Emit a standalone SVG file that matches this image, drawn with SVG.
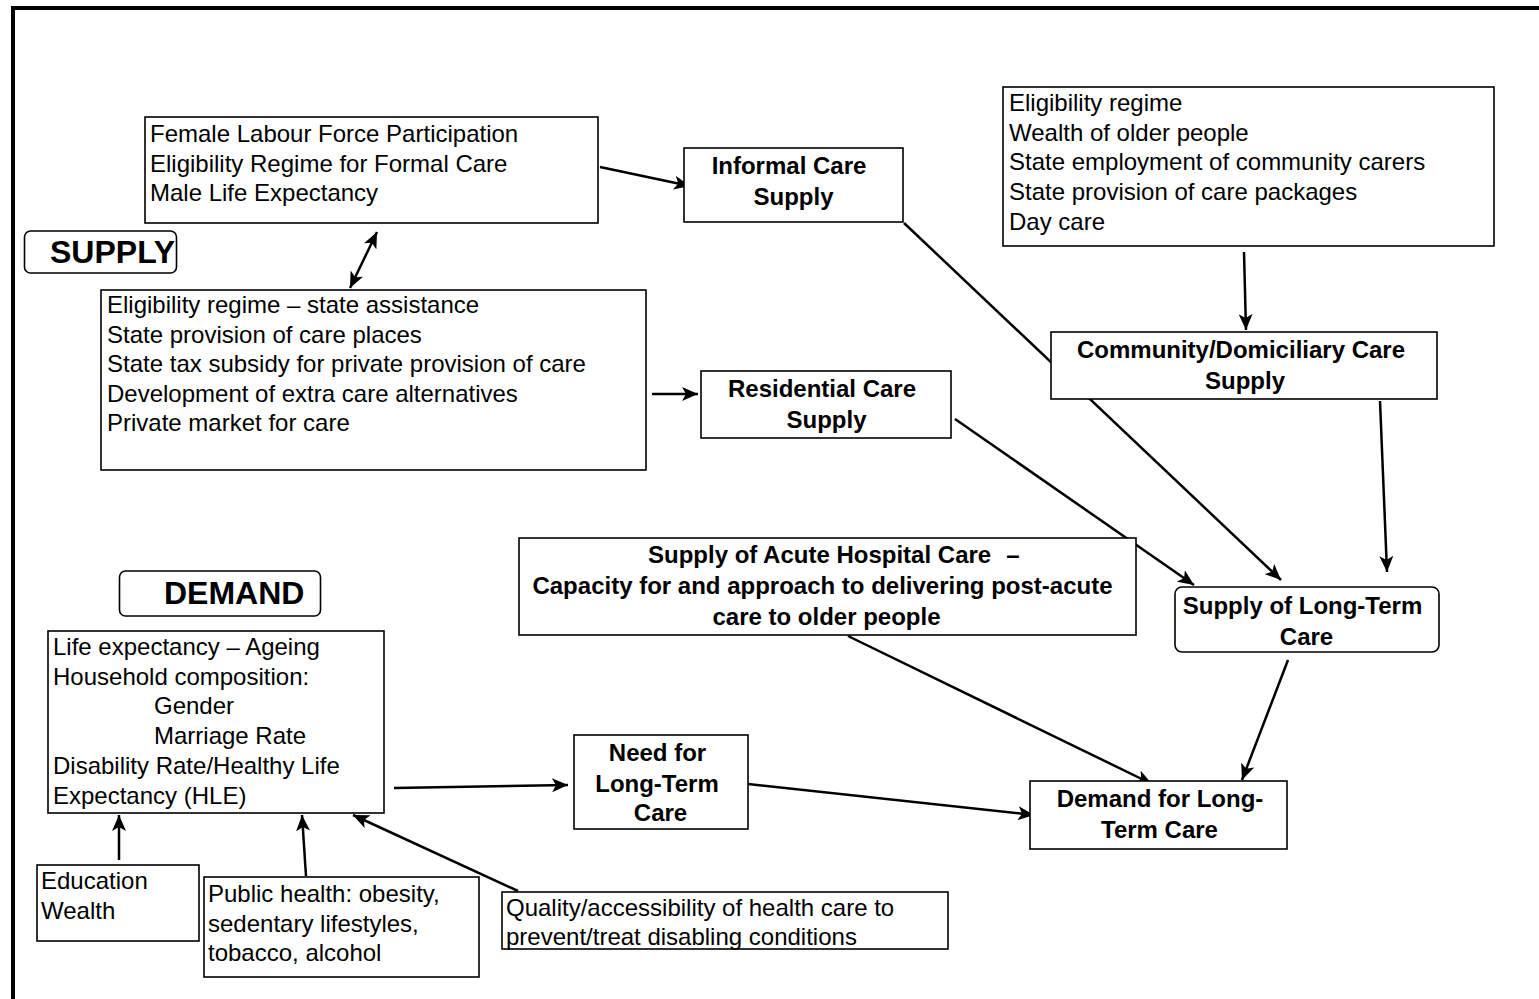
<svg xmlns="http://www.w3.org/2000/svg" width="1539" height="999" viewBox="0 0 1539 999">
<style>
.box{fill:#fff;stroke:#000;stroke-width:1.6}
.t{font-family:"Liberation Sans",Arial,sans-serif;font-size:24px;fill:#000}
.b{font-family:"Liberation Sans",Arial,sans-serif;font-size:24px;font-weight:bold;fill:#000;text-anchor:middle}
.h{font-family:"Liberation Sans",Arial,sans-serif;font-size:32px;font-weight:bold;fill:#000}
.c{fill:none;stroke:#000;stroke-width:2.5}
</style>
<defs>
<marker id="ah" markerUnits="userSpaceOnUse" markerWidth="17" markerHeight="14" refX="16" refY="7" orient="auto-start-reverse">
<path d="M0,0 L16,7 L0,14 L4,7 Z" fill="#000"/>
</marker>
</defs>
<rect width="1539" height="999" fill="#fff"/>
<g id="frame">
<line x1="11" y1="8" x2="1539" y2="8" stroke="#000" stroke-width="4"/>
<line x1="13" y1="6" x2="13" y2="999" stroke="#000" stroke-width="4"/>
</g>
<g id="connectors">
<line class="c" x1="600" y1="167" x2="690" y2="186" marker-end="url(#ah)"/>
<line class="c" x1="350" y1="288" x2="377" y2="232" marker-start="url(#ah)" marker-end="url(#ah)"/>
<line class="c" x1="652" y1="394" x2="698" y2="394" stroke-width="3" marker-end="url(#ah)"/>
<line class="c" x1="904" y1="223" x2="1281" y2="580" marker-end="url(#ah)"/>
<line class="c" x1="1244" y1="252" x2="1246" y2="330" marker-end="url(#ah)"/>
<line class="c" x1="955" y1="419" x2="1194" y2="585" marker-end="url(#ah)"/>
<line class="c" x1="1380" y1="401" x2="1387" y2="572" marker-end="url(#ah)"/>
<line class="c" x1="848" y1="636" x2="1152" y2="784" marker-end="url(#ah)"/>
<line class="c" x1="1288" y1="660" x2="1242" y2="780" marker-end="url(#ah)"/>
<line class="c" x1="748" y1="784" x2="1034" y2="815" stroke-width="3" marker-end="url(#ah)"/>
<line class="c" x1="394" y1="788" x2="568" y2="785" stroke-width="3" marker-end="url(#ah)"/>
<line class="c" x1="119" y1="860" x2="119" y2="815" marker-end="url(#ah)"/>
<line class="c" x1="306" y1="876" x2="302" y2="815" marker-end="url(#ah)"/>
<line class="c" x1="518" y1="891" x2="353" y2="815" marker-end="url(#ah)"/>
</g>
<g id="female-labour">
<rect class="box" x="145" y="117" width="453" height="106"/>
<text class="t" x="150" y="142">Female Labour Force Participation</text>
<text class="t" x="150" y="171.5">Eligibility Regime for Formal Care</text>
<text class="t" x="150" y="201">Male Life Expectancy</text>
</g>
<g id="supply-label">
<rect class="box" x="24.5" y="231" width="152" height="42" rx="6"/>
<text class="h" x="50" y="263">SUPPLY</text>
</g>
<g id="residential-factors">
<rect class="box" x="101" y="290" width="545" height="180"/>
<text class="t" x="107" y="313">Eligibility regime – state assistance</text>
<text class="t" x="107" y="343">State provision of care places</text>
<text class="t" x="107" y="372">State tax subsidy for private provision of care</text>
<text class="t" x="107" y="402">Development of extra care alternatives</text>
<text class="t" x="107" y="431">Private market for care</text>
</g>
<g id="informal-care">
<rect class="box" x="684" y="148" width="219" height="74"/>
<text class="b" x="789" y="173.5">Informal Care</text>
<text class="b" x="793.5" y="204.5">Supply</text>
</g>
<g id="residential-care">
<rect class="box" x="701" y="371" width="250" height="67"/>
<text class="b" x="822" y="396.5">Residential Care</text>
<text class="b" x="826.5" y="427.5">Supply</text>
</g>
<g id="community-factors">
<rect class="box" x="1003" y="87" width="491" height="159"/>
<text class="t" x="1009" y="111">Eligibility regime</text>
<text class="t" x="1009" y="141">Wealth of older people</text>
<text class="t" x="1009" y="170">State employment of community carers</text>
<text class="t" x="1009" y="200">State provision of care packages</text>
<text class="t" x="1009" y="230">Day care</text>
</g>
<g id="community-care">
<rect class="box" x="1051" y="332" width="386" height="67"/>
<text class="b" x="1241" y="357.5">Community/Domiciliary Care</text>
<text class="b" x="1245" y="388.5">Supply</text>
</g>
<g id="acute-hospital">
<rect class="box" x="519" y="538" width="617" height="97"/>
<text class="b" x="648" y="562.5" style="text-anchor:start">Supply of Acute Hospital Care</text>
<text class="b" x="1013" y="562.5">–</text>
<text class="b" x="822.5" y="593.5">Capacity for and approach to delivering post-acute</text>
<text class="b" x="826.5" y="624.5">care to older people</text>
</g>
<g id="supply-ltc">
<rect class="box" x="1175" y="587" width="264" height="65" rx="7"/>
<text class="b" x="1302.5" y="613.5">Supply of Long-Term</text>
<text class="b" x="1306.5" y="644.5">Care</text>
</g>
<g id="demand-label">
<rect class="box" x="119.5" y="571" width="201" height="45" rx="6"/>
<text class="h" x="164" y="604">DEMAND</text>
</g>
<g id="demographics">
<rect class="box" x="48" y="631" width="336" height="182"/>
<text class="t" x="53" y="655">Life expectancy – Ageing</text>
<text class="t" x="53" y="685">Household composition:</text>
<text class="t" x="154" y="714">Gender</text>
<text class="t" x="154" y="744">Marriage Rate</text>
<text class="t" x="53" y="774">Disability Rate/Healthy Life</text>
<text class="t" x="53" y="804">Expectancy (HLE)</text>
</g>
<g id="need-ltc">
<rect class="box" x="574" y="735" width="174" height="94"/>
<text class="b" x="657.5" y="760.5">Need for</text>
<text class="b" x="657" y="791.5">Long-Term</text>
<text class="b" x="660.5" y="820.5">Care</text>
</g>
<g id="demand-ltc">
<rect class="box" x="1030" y="781" width="257" height="68"/>
<text class="b" x="1160" y="806.5">Demand for Long-</text>
<text class="b" x="1159.5" y="837.5">Term Care</text>
</g>
<g id="education">
<rect class="box" x="37" y="865" width="162" height="76"/>
<text class="t" x="41" y="889">Education</text>
<text class="t" x="41" y="919">Wealth</text>
</g>
<g id="public-health">
<rect class="box" x="204" y="877" width="275" height="100"/>
<text class="t" x="208" y="902">Public health: obesity,</text>
<text class="t" x="208" y="932">sedentary lifestyles,</text>
<text class="t" x="208" y="961">tobacco, alcohol</text>
</g>
<g id="quality-care">
<rect class="box" x="502" y="892" width="446" height="57"/>
<text class="t" x="506" y="916">Quality/accessibility of health care to</text>
<text class="t" x="506" y="945">prevent/treat disabling conditions</text>
</g>
</svg>
